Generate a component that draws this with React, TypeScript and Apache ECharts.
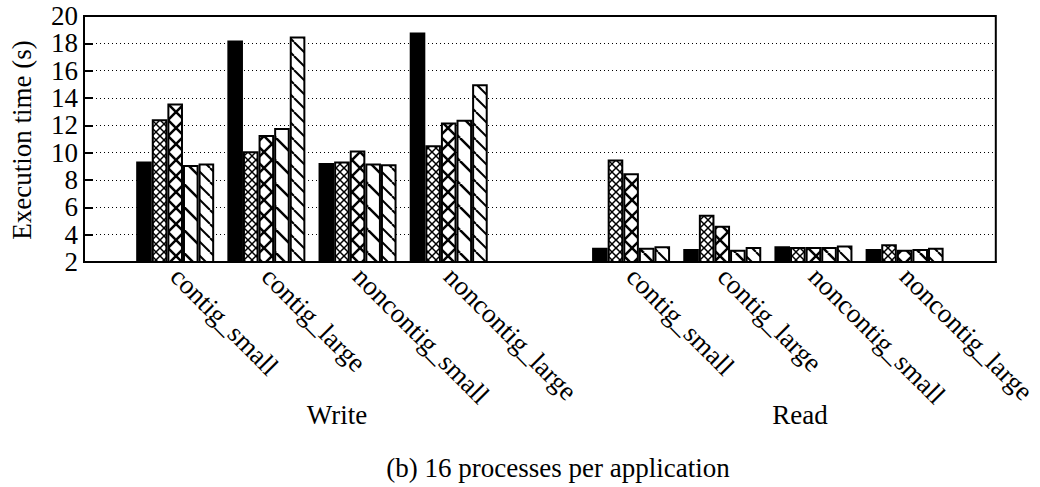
import React, { useEffect, useRef } from "react";
import * as echarts from "echarts";

const categories = ["", "contig_small", "contig_large", "noncontig_small", "noncontig_large", "", "contig_small", "contig_large", "noncontig_small", "noncontig_large", ""];
const seriesNames = ["s1", "s2", "s3", "s4", "s5"];
// values per series: Write (4) then Read (4)
const s1 = [9.35, 18.2, 9.25, 18.8, 3.05, 2.95, 3.15, 2.95];
const s2 = [12.45, 10.1, 9.35, 10.55, 9.5, 5.45, 3.1, 3.3];
const s3 = [13.6, 11.3, 10.15, 12.2, 8.5, 4.65, 3.1, 2.9];
const s4 = [9.1, 11.8, 9.2, 12.4, 3.05, 2.9, 3.1, 2.95];
const s5 = [9.2, 18.5, 9.15, 15.0, 3.15, 3.1, 3.2, 3.05];
const yTicks = { min: 2, max: 20, interval: 2 };
const groupLabels = ["Write", "Read"];
const caption = "(b) 16 processes per application";
const yName = "Execution time (s)";

const FONT = "Liberation Serif";

function makePattern(kind: string): any {
  if (kind === "solid") return "#000";
  const cfg: Record<string, { s: number; w: number; fwd: boolean; back: boolean }> = {
    fineX: { s: 8, w: 1.5, fwd: true, back: true },
    coarseX: { s: 16, w: 2.5, fwd: true, back: true },
    wideBack: { s: 23, w: 2.5, fwd: false, back: true },
    fineBack: { s: 14, w: 2, fwd: false, back: true },
  };
  const c = cfg[kind];
  const cv = document.createElement("canvas");
  cv.width = c.s;
  cv.height = c.s;
  const ctx = cv.getContext("2d")!;
  ctx.fillStyle = "#fff";
  ctx.fillRect(0, 0, c.s, c.s);
  ctx.strokeStyle = "#000";
  ctx.lineWidth = c.w;
  const s = c.s;
  for (let k = -1; k <= 1; k++) {
    if (c.back) {
      ctx.beginPath();
      ctx.moveTo(k * s, 0);
      ctx.lineTo(k * s + s, s);
      ctx.stroke();
    }
    if (c.fwd) {
      ctx.beginPath();
      ctx.moveTo(k * s, s);
      ctx.lineTo(k * s + s, 0);
      ctx.stroke();
    }
  }
  return { image: cv, repeat: "repeat" };
}

function withGap(vals: number[]): (number | string)[] {
  return ["-", ...vals.slice(0, 4), "-", ...vals.slice(4, 8), "-"];
}

export default function App() {
  const ref = useRef<HTMLDivElement>(null);
  useEffect(() => {
    document.body.style.margin = "0";
    const chart = echarts.init(ref.current!, null, { renderer: "svg" });
    const kinds = ["solid", "fineX", "coarseX", "wideBack", "fineBack"];
    const all = [s1, s2, s3, s4, s5];
    const series = all.map((vals, i) => ({
      name: seriesNames[i],
      type: "bar",
      data: withGap(vals),
      barWidth: 15.6,
      barGap: "0%",
      itemStyle: {
        color: makePattern(kinds[i]),
        borderColor: "#000",
        borderWidth: 2,
      },
    }));
    chart.setOption({
      animation: false,
      grid: {
        left: 84,
        top: 16,
        right: 35,
        height: 246,
        show: true,
        borderColor: "#000",
        borderWidth: 2,
        backgroundColor: "transparent",
      },
      xAxis: {
        type: "category",
        data: categories,
        boundaryGap: false,
        axisLine: { lineStyle: { color: "#000", width: 2 } },
        axisTick: { show: false },
        axisLabel: {
          interval: 0,
          rotate: -45,
          fontSize: 27,
          fontFamily: FONT,
          color: "#000",
          margin: 10,
        },
      },
      yAxis: {
        type: "value",
        min: yTicks.min,
        max: yTicks.max,
        interval: yTicks.interval,
        axisLine: { show: true, lineStyle: { color: "#000", width: 2 } },
        axisTick: { show: true, inside: true, length: 9, lineStyle: { color: "#000", width: 2 } },
        axisLabel: { fontSize: 27, fontFamily: FONT, color: "#000", margin: 6 },
        splitLine: { show: true, lineStyle: { color: "#000", width: 1, type: [1, 3] } },
      },
      graphic: [
        {
          type: "text",
          x: 22,
          y: 140,
          rotation: Math.PI / 2,
          style: { text: yName, font: `27px "${FONT}"`, fill: "#000", align: "center", verticalAlign: "middle" },
        },
        {
          type: "text",
          x: 337,
          y: 415,
          style: { text: groupLabels[0], font: `27px "${FONT}"`, fill: "#000", align: "center", verticalAlign: "middle" },
        },
        {
          type: "text",
          x: 800,
          y: 415,
          style: { text: groupLabels[1], font: `27px "${FONT}"`, fill: "#000", align: "center", verticalAlign: "middle" },
        },
        {
          type: "text",
          x: 558,
          y: 468,
          style: { text: caption, font: `27px "${FONT}"`, fill: "#000", align: "center", verticalAlign: "middle" },
        },
      ],
      series,
    });
    return () => chart.dispose();
  }, []);
  return <div ref={ref} style={{ width: 1040, height: 487 }} />;
}
